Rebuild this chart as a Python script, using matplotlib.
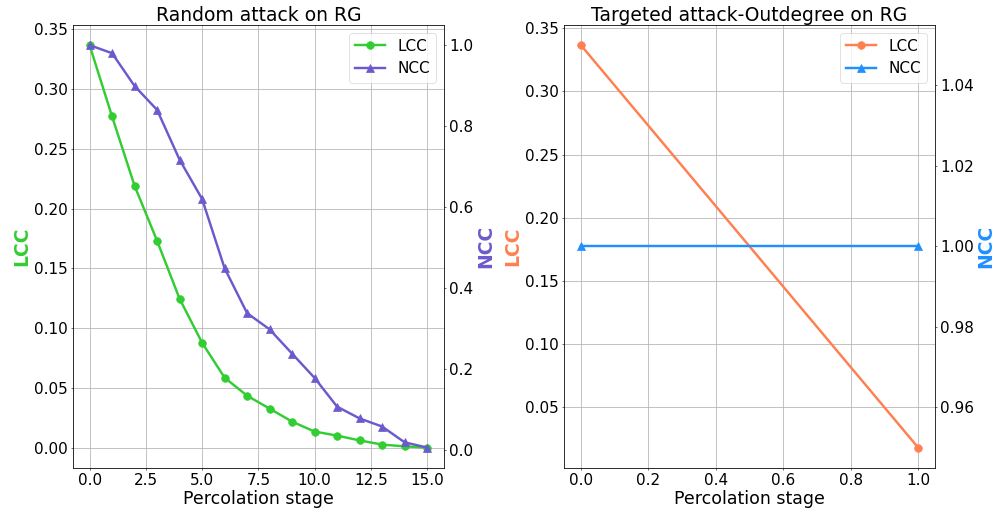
import matplotlib
matplotlib.use('Agg')
import matplotlib.pyplot as plt

# ─── Data ────────────────────────────────────────────────────────────────────
stages_random = list(range(16))
lcc_random = [0.3367, 0.277, 0.219, 0.173, 0.1245, 0.0877, 0.0585, 0.0434,
              0.0326, 0.0217, 0.0134, 0.0100, 0.0060, 0.0025, 0.0010, 0.0]
ncc_random = [1.0, 0.980, 0.899, 0.840, 0.717, 0.620, 0.449, 0.338,
              0.298, 0.238, 0.178, 0.107, 0.078, 0.058, 0.019, 0.006]
xticks_random = [0.0, 2.5, 5.0, 7.5, 10.0, 12.5, 15.0]

stages_target = [0, 1]
lcc_target = [0.3367, 0.018]
ncc_target = [1.0, 1.0]

titles = ['Random attack on RG', 'Targeted attack-Outdegree on RG']

# ─── Plot ────────────────────────────────────────────────────────────────────
# big figure rendered at low dpi (matches the original's proportions)
W, H = 997, 512
fig = plt.figure(figsize=(W / 50, H / 50), dpi=50)
ax_l = fig.add_axes([72.7 / W, 1 - 467.7 / H, (444 - 72.7) / W, (467.7 - 25) / H])
ax_r = fig.add_axes([564 / W, 1 - 467.7 / H, (935 - 564) / W, (467.7 - 25) / H])


def panel(ax, x, lcc, ncc, c1, c2, title):
    ax2 = ax.twinx()
    l1, = ax.plot(x, lcc, 'o-', color=c1, linewidth=3.5, markersize=11, label='LCC')
    l2, = ax2.plot(x, ncc, '^-', color=c2, linewidth=3.5, markersize=12, label='NCC')
    ax.set_xlabel('Percolation stage', fontsize=25)
    ax.set_ylabel('LCC', color=c1, fontsize=27, fontweight='bold')
    ax2.set_ylabel('NCC', color=c2, fontsize=27, fontweight='bold')
    ax.set_title(title, fontsize=27)
    ax.grid(True, color='#b8b8b8', linewidth=1.2)
    ax.legend(handles=[l1, l2], loc='upper right', fontsize=22)
    ax.tick_params(labelsize=22)
    ax2.tick_params(labelsize=22)
    return ax2


panel(ax_l, stages_random, lcc_random, ncc_random, '#32CD32', '#6A5ACD', titles[0])
ax_l.set_xticks(xticks_random)
panel(ax_r, stages_target, lcc_target, ncc_target, '#FF7F50', '#1E90FF', titles[1])

fig.savefig('out.png', dpi=50)
plt.close()
